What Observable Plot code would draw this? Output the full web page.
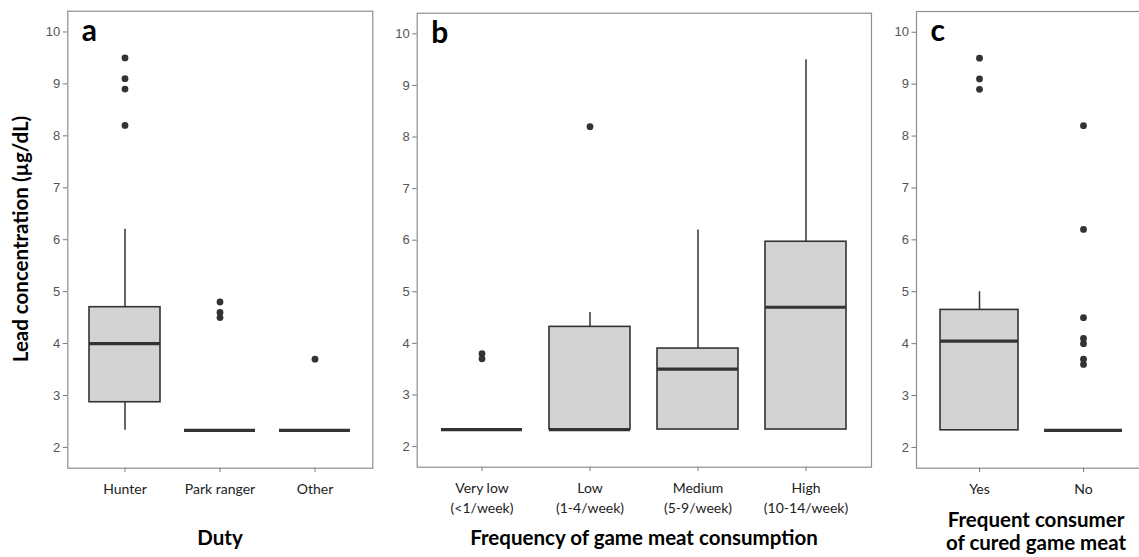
<!DOCTYPE html>
<html>
<head>
<meta charset="utf-8">
<script src="https://cdn.jsdelivr.net/npm/d3@7"></script>
<script src="https://cdn.jsdelivr.net/npm/@observablehq/plot@0.6"></script>
<style>
  html, body { margin: 0; padding: 0; background: #fff; }
  body { width: 1139px; height: 557px; overflow: hidden; position: relative; }
  .panel { position: absolute; top: 0; }
  .panel g[aria-label="y-axis tick label"] { font-size: 13px !important; font-family: "Liberation Sans", Arial, sans-serif !important; }
  .panel g[aria-label="x-axis tick label"] { font-size: 14px !important; font-family: Lato, "Open Sans", sans-serif !important; }
  .title { position: absolute; font-family: Lato, "Open Sans", sans-serif; font-weight: bold;
           font-size: 20.5px; color: #000; white-space: nowrap; text-align: center;
           transform: translate(-50%, -50%); line-height: 23px; }
</style>
</head>
<body>
<script>
// ---- Panel a: Duty ----
const dutyCats = ["Hunter", "Park ranger", "Other"];
const dutyLow = [2.33, 2.33, 2.33];
const dutyQ1 = [2.87, 2.33, 2.33];
const dutyMedian = [4.0, 2.33, 2.33];
const dutyQ3 = [4.7, 2.33, 2.33];
const dutyHigh = [6.2, 2.33, 2.33];
const dutyOutCat = ["Hunter", "Hunter", "Hunter", "Hunter", "Park ranger", "Park ranger", "Park ranger", "Other"];
const dutyOutVal = [9.5, 9.1, 8.9, 8.2, 4.8, 4.6, 4.5, 3.7];

// ---- Panel b: Frequency of game meat consumption ----
const freqCats = ["Very low", "Low", "Medium", "High"];
const freqTickLabels = ["Very low\n(<1/week)", "Low\n(1-4/week)", "Medium\n(5-9/week)", "High\n(10-14/week)"];
const freqLow = [2.33, 2.33, 2.33, 2.33];
const freqQ1 = [2.33, 2.33, 2.33, 2.33];
const freqMedian = [2.33, 2.33, 3.5, 4.7];
const freqQ3 = [2.33, 4.32, 3.9, 5.97];
const freqHigh = [2.33, 4.6, 6.2, 9.5];
const freqOutCat = ["Very low", "Very low", "Low"];
const freqOutVal = [3.8, 3.7, 8.2];

// ---- Panel c: Frequent consumer of cured game meat ----
const curedCats = ["Yes", "No"];
const curedLow = [2.33, 2.33];
const curedQ1 = [2.33, 2.33];
const curedMedian = [4.05, 2.33];
const curedQ3 = [4.65, 2.33];
const curedHigh = [5.0, 2.33];
const curedOutCat = ["Yes", "Yes", "Yes", "No", "No", "No", "No", "No", "No", "No"];
const curedOutVal = [9.5, 9.1, 8.9, 8.2, 6.2, 4.5, 4.1, 4.0, 3.7, 3.6];

const yTicks = [2, 3, 4, 5, 6, 7, 8, 9, 10];
const yDomain = [1.6, 10.4];

function panel({cats, tickLabels, low, q1, median, q3, high, outCat, outVal, letter,
                left, width, marginLeft, marginRight, marginTop, marginBottom}) {
  const rows = cats.map((c, i) => ({cat: c, low: low[i], q1: q1[i], median: median[i], q3: q3[i], high: high[i]}));
  const outliers = outCat.map((c, i) => ({cat: c, value: outVal[i]}));
  const labelOf = new Map(cats.map((c, i) => [c, tickLabels ? tickLabels[i] : c]));
  const chart = Plot.plot({
    width, height: 557, marginLeft, marginRight, marginTop, marginBottom,
    style: {background: "transparent", overflow: "visible"},
    x: {type: "band", domain: cats, paddingInner: 0.25, paddingOuter: 0.225, align: 0.5, label: null},
    y: {domain: yDomain, label: null},
    marks: [
      Plot.frame({stroke: "#8e8e8e", strokeWidth: 1.2}),
      Plot.ruleX(rows, {x: "cat", y1: "low", y2: "high", stroke: "#333", strokeWidth: 1.5}),
      Plot.barY(rows, {x: "cat", y1: "q1", y2: "q3", fill: "#d3d3d3", stroke: "#333", strokeWidth: 1.6}),
      Plot.tickY(rows, {x: "cat", y: "median", stroke: "#333", strokeWidth: 3.2}),
      Plot.dot(outliers, {x: "cat", y: "value", r: 3.4, fill: "#333", stroke: null}),
      Plot.axisY({ticks: yTicks, tickSize: 4.5, tickPadding: 3, stroke: "#7a7a7a", fill: "#555",
                  fontSize: 13, fontFamily: "Liberation Sans, Arial, sans-serif", label: null}),
      Plot.axisX({tickSize: 4.5, tickPadding: 8, stroke: "#7a7a7a", fill: "#222", fontSize: 14,
                  fontFamily: "Lato, 'Open Sans', sans-serif", lineHeight: 1.38,
                  tickFormat: (d) => labelOf.get(d), label: null}),
      Plot.text([letter], {frameAnchor: "top-left", dx: 14, dy: 8, text: (d) => d, fontSize: 30,
                           fontWeight: "bold", fontFamily: "Lato, 'Open Sans', sans-serif", fill: "#000",
                           textAnchor: "start", lineAnchor: "top"})
    ]
  });
  chart.classList.add("panel");
  chart.style.left = left + "px";
  document.body.appendChild(chart);
}

panel({cats: dutyCats, low: dutyLow, q1: dutyQ1, median: dutyMedian, q3: dutyQ3, high: dutyHigh,
       outCat: dutyOutCat, outVal: dutyOutVal, letter: "a",
       left: 0, width: 380, marginLeft: 67.3, marginRight: 7.7, marginTop: 10.7, marginBottom: 89.3});
panel({cats: freqCats, tickLabels: freqTickLabels, low: freqLow, q1: freqQ1, median: freqMedian, q3: freqQ3, high: freqHigh,
       outCat: freqOutCat, outVal: freqOutVal, letter: "b",
       left: 380, width: 495, marginLeft: 36.7, marginRight: 4, marginTop: 12.7, marginBottom: 90.3});
panel({cats: curedCats, low: curedLow, q1: curedQ1, median: curedMedian, q3: curedQ3, high: curedHigh,
       outCat: curedOutCat, outVal: curedOutVal, letter: "c",
       left: 875, width: 275, marginLeft: 41, marginRight: 4.5, marginTop: 11, marginBottom: 89.3});

function addTitle(text, x, y, rotate) {
  const d = document.createElement("div");
  d.className = "title";
  d.innerHTML = text;
  d.style.left = x + "px";
  d.style.top = y + "px";
  if (rotate) d.style.transform = "translate(-50%, -50%) rotate(-90deg)";
  document.body.appendChild(d);
}
addTitle("Lead concentration (µg/dL)", 20, 239, true);
addTitle("Duty", 220, 537);
addTitle("Frequency of game meat consumption", 644, 537);
addTitle("Frequent consumer<br>of cured game meat", 1036, 531);
</script>
</body>
</html>
